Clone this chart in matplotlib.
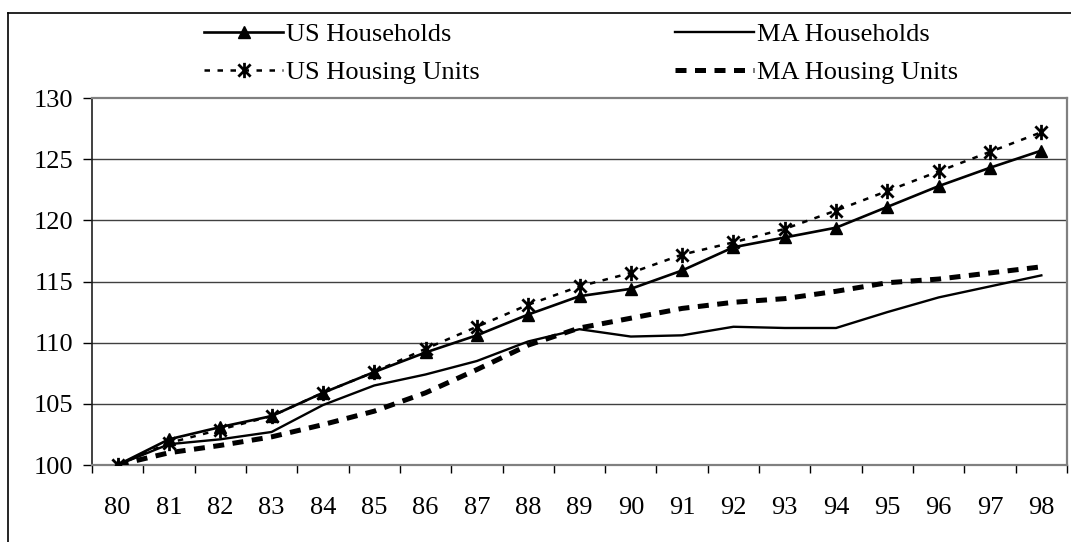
import matplotlib
matplotlib.use("Agg")
import matplotlib.pyplot as plt
from matplotlib.lines import Line2D
from matplotlib.path import Path

years = ["80", "81", "82", "83", "84", "85", "86", "87", "88", "89",
         "90", "91", "92", "93", "94", "95", "96", "97", "98"]
us_households = [100, 102.1, 103.1, 104.0, 105.9, 107.6, 109.2, 110.6, 112.3, 113.8,
                 114.4, 115.9, 117.8, 118.6, 119.4, 121.1, 122.8, 124.3, 125.7]
us_units = [100, 101.8, 102.9, 104.0, 105.9, 107.6, 109.5, 111.3, 113.1, 114.6,
            115.7, 117.2, 118.2, 119.3, 120.8, 122.4, 124.0, 125.6, 127.2]
ma_households = [100, 101.7, 102.1, 102.7, 104.9, 106.5, 107.4, 108.5, 110.1, 111.1,
                 110.5, 110.6, 111.3, 111.2, 111.2, 112.5, 113.7, 114.6, 115.5]
ma_units = [100, 101.0, 101.6, 102.3, 103.3, 104.4, 105.9, 107.8, 109.8, 111.2,
            112.0, 112.8, 113.3, 113.6, 114.2, 114.9, 115.2, 115.7, 116.2]
y_ticks = [100, 105, 110, 115, 120, 125, 130]

plt.rcParams["font.family"] = ["Liberation Serif", "DejaVu Serif"]
FS = 19

W, H = 1071, 542
fig = plt.figure(figsize=(W / 100, H / 100), dpi=100)
ax = fig.add_axes([92 / W, 1 - 465 / H, (1067 - 92) / W, (465 - 98) / H])

# asterisk marker: vertical bar plus an X
ast = Path([(0, -1), (0, 1), (-0.8, -0.8), (0.8, 0.8), (-0.8, 0.8), (0.8, -0.8)],
           [Path.MOVETO, Path.LINETO] * 3)

x = list(range(len(years)))
l1, = ax.plot(x, us_households, color="black", lw=1.9, marker="^", ms=8,
              label="US Households", zorder=4)
l2, = ax.plot(x, ma_households, color="black", lw=1.7, label="MA Households", zorder=3)
l3, = ax.plot(x, us_units, color="black", lw=1.8, dashes=(2.2, 3.0), marker=ast, ms=11,
              mew=2, label="US Housing Units", zorder=4)
l4, = ax.plot(x, ma_units, color="black", lw=3.6, dashes=(2.2, 1.7), dash_capstyle="butt",
              label="MA Housing Units", zorder=3)

ax.set_xlim(-0.5, len(years) - 0.5)
ax.set_ylim(100, 130)
ax.set_yticks(y_ticks)
ax.set_xticks(x)
ax.set_xticklabels(years)
ax.set_xticks([i - 0.5 for i in range(len(years) + 1)], minor=True)
ax.tick_params(axis="x", which="major", length=0, pad=23, labelsize=FS)
ax.tick_params(axis="x", which="minor", length=6, width=1, direction="out", color="black")
ax.tick_params(axis="y", length=6.5, width=1, pad=7, labelsize=FS, color="black")

for yv in y_ticks[1:-1]:
    ax.axhline(yv, color="#404040", lw=1, zorder=1)
for side in ("top", "right", "bottom"):
    ax.spines[side].set_color("#808080")
    ax.spines[side].set_linewidth(1.6)
ax.spines["left"].set_color("#202020")
ax.spines["left"].set_linewidth(1.2)

# outer chart border (left and top visible)
fig.add_artist(Line2D([8 / W, 8 / W], [-0.1, 1 - 13 / H], color="black", lw=1.2))
fig.add_artist(Line2D([8 / W, 1.1], [1 - 13 / H, 1 - 13 / H], color="black", lw=1.2))

leg_kw = dict(loc="upper left", frameon=False, fontsize=FS, handlelength=3.0,
              handletextpad=0.1, borderpad=0, borderaxespad=0, labelspacing=0.55)
fig.legend([l1, l3], ["US Households", "US Housing Units"],
           bbox_to_anchor=(204 / W, 1 - 23 / H), **leg_kw)
fig.legend([l2, l4], ["MA Households", "MA Housing Units"],
           bbox_to_anchor=(675 / W, 1 - 23 / H), **leg_kw)

fig.savefig("out.png", dpi=100, facecolor="white")
